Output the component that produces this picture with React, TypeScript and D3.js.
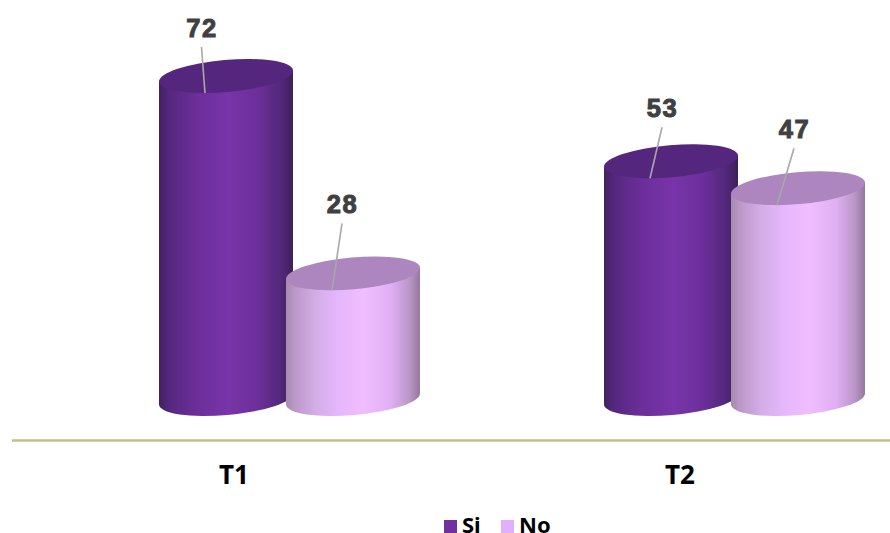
import React from "react";
import * as d3 from "d3";

const categories = ["T1", "T2"];
const seriesNames = ["Si", "No"];
const siValues = [72, 53];
const noValues = [28, 47];

const WIDTH = 890;
const HEIGHT = 533;
const BAR_W = 134.5;
const RY = 16;
const TILT = -5;
const RAD = (TILT * Math.PI) / 180;

// Leader line start relative to each cylinder's top centre; the value label sits just above it.
const leaderOffsets: Record<string, [number, number][]> = {
  Si: [[-24.5, -29], [-9, -34]],
  No: [[-11, -50], [-4, -40]],
};

const x0 = d3.scalePoint<string>().domain(categories).range([289.5, 734.5]);
const labelX = d3.scalePoint<string>().domain(categories).range([234, 680]);
const x1 = d3.scalePoint<string>().domain(seriesNames).range([-63.5, 63.5]);
const y = d3.scaleLinear().domain([0, 72]).range([399, 76]);

const styles: Record<string, { top: string; legend: string; stops: [number, string][] }> = {
  Si: {
    top: "#55267e",
    legend: "#7030a0",
    stops: [
      [0, "#43215f"],
      [0.08, "#55287f"],
      [0.28, "#6c2e9a"],
      [0.52, "#7834a8"],
      [0.74, "#6c2f9a"],
      [0.9, "#54287c"],
      [1, "#3f2059"],
    ],
  },
  No: {
    top: "#ad85bf",
    legend: "#e0b0ff",
    stops: [
      [0, "#a88bb0"],
      [0.08, "#bd9acb"],
      [0.22, "#d3ade6"],
      [0.38, "#e4b6fb"],
      [0.58, "#f0bdff"],
      [0.78, "#e0b0f4"],
      [0.92, "#bb96c8"],
      [1, "#94789c"],
    ],
  },
};

// The side runs straight across the cylinder's top; the cap ellipse is painted over that edge.
function bodyPath(cx: number, topY: number, baseY: number) {
  const dx = (BAR_W / 2) * Math.cos(RAD);
  const dy = (BAR_W / 2) * Math.sin(RAD);
  return (
    `M${cx - dx},${topY - dy}L${cx - dx},${baseY - dy}` +
    `A${BAR_W / 2},${RY} ${TILT} 0 0 ${cx + dx},${baseY + dy}` +
    `L${cx + dx},${topY + dy}Z`
  );
}

function Cylinder({ series, cat, value, i }: { series: string; cat: string; value: number; i: number }) {
  const cx = (x0(cat) as number) + (x1(series) as number);
  const top = y(value);
  const [ox, oy] = leaderOffsets[series][i];
  return (
    <g>
      <path d={bodyPath(cx, top, y(0))} fill={`url(#grad-${series})`} />
      <ellipse
        cx={cx}
        cy={top}
        rx={BAR_W / 2}
        ry={RY}
        fill={styles[series].top}
        transform={`rotate(${TILT} ${cx} ${top})`}
      />
      <line x1={cx + ox} y1={top + oy} x2={cx - 21} y2={top + 17} stroke="#a8a8a8" strokeWidth={1.6} />
      <text
        x={cx + ox + 0.5}
        y={top + oy - 10.5}
        textAnchor="middle"
        fontFamily="'Liberation Sans', Arial, sans-serif"
        fontWeight={700}
        fontSize={25.5}
        letterSpacing={1.5}
        fill="#404040"
        stroke="#404040"
        strokeWidth={1}
      >
        {value}
      </text>
    </g>
  );
}

export default function App() {
  return (
    <svg
      width={WIDTH}
      height={HEIGHT}
      viewBox={`0 0 ${WIDTH} ${HEIGHT}`}
      style={{ position: "absolute", left: 0, top: 0, display: "block", background: "#fff" }}
    >
      <defs>
        {seriesNames.map((s) => (
          <linearGradient key={s} id={`grad-${s}`} x1="0" x2="1" y1="0" y2="0">
            {styles[s].stops.map(([o, c]) => (
              <stop key={o} offset={o} stopColor={c} />
            ))}
          </linearGradient>
        ))}
      </defs>

      {categories.map((cat, i) => (
        <g key={cat}>
          <Cylinder series="Si" cat={cat} value={siValues[i]} i={i} />
          <Cylinder series="No" cat={cat} value={noValues[i]} i={i} />
        </g>
      ))}

      <line x1={12} x2={890} y1={440.5} y2={440.5} stroke="#c9be86" strokeWidth={2.4} />

      {categories.map((cat) => (
        <text
          key={cat}
          x={labelX(cat)}
          y={484}
          textAnchor="middle"
          fontFamily="'Noto Sans', sans-serif"
          fontWeight={700}
          fontSize={26}
          fill="#000"
        >
          {cat}
        </text>
      ))}

      {/* Legend */}
      <rect x={444} y={520} width={13} height={13} fill={styles.Si.legend} />
      <text x={462} y={533} fontFamily="'Noto Sans', sans-serif" fontWeight={700} fontSize={22} fill="#000">
        {seriesNames[0]}
      </text>
      <rect x={501} y={520} width={13} height={13} fill={styles.No.legend} />
      <text x={519} y={533} fontFamily="'Noto Sans', sans-serif" fontWeight={700} fontSize={22} fill="#000">
        {seriesNames[1]}
      </text>
    </svg>
  );
}
